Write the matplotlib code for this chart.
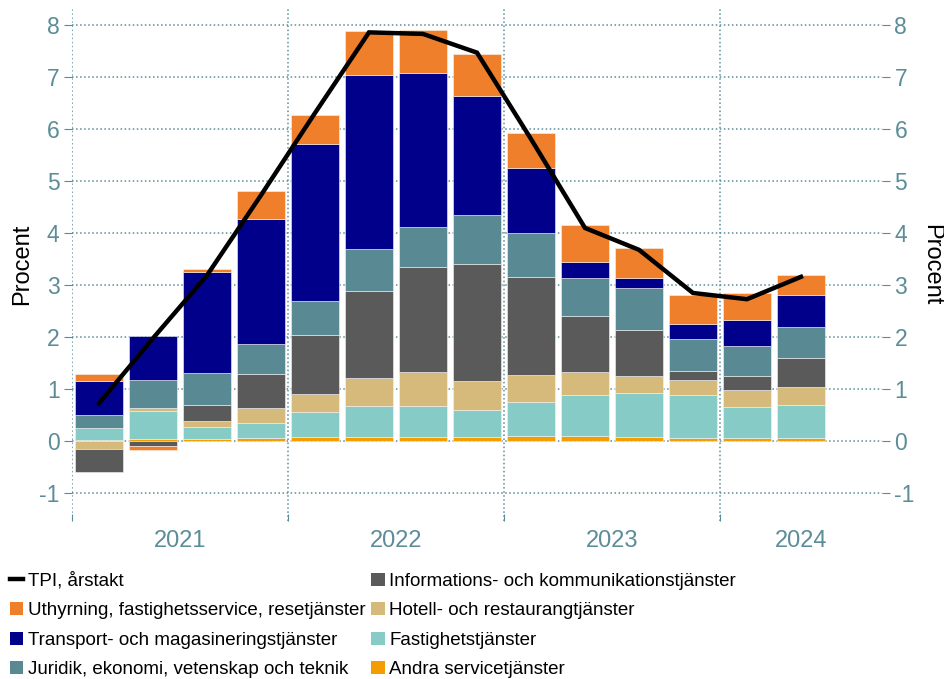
import matplotlib
matplotlib.use("Agg")
import matplotlib.pyplot as plt
import numpy as np
from matplotlib import font_manager
from matplotlib.lines import Line2D
from matplotlib.patches import Patch

# kvartal 2021Q1 - 2024Q2
years = ["2021", "2022", "2023", "2024"]
year_centers = [1.5, 5.5, 9.5, 13.0]
year_bounds = [-0.5, 3.5, 7.5, 11.5]

andra = [0.02, 0.03, 0.03, 0.06, 0.07, 0.07, 0.07, 0.08, 0.10, 0.10, 0.08, 0.06, 0.06, 0.045]
fastighet = [0.23, 0.54, 0.23, 0.28, 0.49, 0.59, 0.59, 0.51, 0.65, 0.77, 0.83, 0.82, 0.58, 0.64]
hotell = [-0.16, 0.06, 0.12, 0.28, 0.34, 0.54, 0.67, 0.56, 0.51, 0.45, 0.34, 0.29, 0.33, 0.34]
info = [-0.44, -0.10, 0.30, 0.66, 1.14, 1.67, 2.00, 2.25, 1.88, 1.07, 0.87, 0.17, 0.27, 0.56]
juridik = [0.24, 0.53, 0.62, 0.58, 0.64, 0.81, 0.78, 0.93, 0.86, 0.73, 0.82, 0.61, 0.58, 0.60]
transport = [0.65, 0.86, 1.95, 2.41, 3.03, 3.36, 2.95, 2.29, 1.24, 0.31, 0.18, 0.30, 0.50, 0.61]
uthyrning = [0.15, -0.07, 0.06, 0.54, 0.55, 0.83, 0.83, 0.81, 0.68, 0.71, 0.58, 0.56, 0.51, 0.40]
tpi = [0.72, 1.97, 3.18, 4.72, 6.30, 7.85, 7.82, 7.46, 5.80, 4.09, 3.67, 2.84, 2.72, 3.15]

series = [
    ("Andra servicetjänster", andra, "#f59d00"),
    ("Fastighetstjänster", fastighet, "#86cbc6"),
    ("Hotell- och restaurangtjänster", hotell, "#d5ba7b"),
    ("Informations- och kommunikationstjänster", info, "#5a5a5a"),
    ("Juridik, ekonomi, vetenskap och teknik", juridik, "#598a94"),
    ("Transport- och magasineringstjänster", transport, "#00008b"),
    ("Uthyrning, fastighetsservice, resetjänster", uthyrning, "#f07f2b"),
]

tick_color = "#5b8d98"
plt.rcParams["font.family"] = ["Liberation Sans", "DejaVu Sans"]

names = {f.name for f in font_manager.fontManager.ttflist}
if "Liberation Sans Narrow" in names:
    leg_font = {"family": ["Liberation Sans Narrow", "DejaVu Sans"], "size": 15}
else:
    leg_font = {"family": ["Liberation Sans", "DejaVu Sans"], "size": 13.5}

fig = plt.figure(figsize=(9.45, 6.79), dpi=100)
ax = fig.add_axes([0.0762, 0.2322, 0.8571, 0.7569])

x = np.arange(len(tpi))
pos = np.zeros(len(x))
neg = np.zeros(len(x))
handles = {}
for name, vals, col in series:
    vals = np.array(vals)
    bottom = np.where(vals >= 0, pos, neg)
    ax.bar(x, vals, bottom=bottom, width=0.89, color=col, edgecolor="#f4f4f4", linewidth=0.4, zorder=3)
    pos = pos + np.where(vals >= 0, vals, 0)
    neg = neg + np.where(vals < 0, vals, 0)
    handles[name] = Patch(facecolor=col, edgecolor="none")

ax.plot(x, tpi, color="black", linewidth=3.2, zorder=4, solid_joinstyle="miter")

ax.set_xlim(-0.5, 14.5)
ax.set_ylim(-1.55, 8.33)
ax.set_yticks(range(-1, 9))
ax.set_yticklabels([str(v) for v in range(-1, 9)])
ax.grid(axis="y", linestyle=":", color=tick_color, linewidth=1.1, zorder=0)

for b in year_bounds:
    ax.axvline(b, linestyle=":", color=tick_color, linewidth=1.1, zorder=1)

ax.set_xticks(year_bounds)
ax.set_xticklabels([])
ax.set_xticks(year_centers, minor=True)
ax.set_xticklabels(years, minor=True)
ax.tick_params(axis="x", which="major", direction="in", length=5, color=tick_color)
ax.tick_params(axis="x", which="minor", length=0, pad=6, labelsize=17, labelcolor=tick_color)
ax.tick_params(axis="y", direction="out", length=6, color=tick_color, labelsize=16.5, labelcolor=tick_color, pad=3)
for s in ax.spines.values():
    s.set_visible(False)
ax.set_ylabel("Procent", fontsize=17, labelpad=4)

ax2 = ax.twinx()
ax2.set_ylim(ax.get_ylim())
ax2.set_yticks(range(-1, 9))
ax2.set_yticklabels([str(v) for v in range(-1, 9)])
ax2.tick_params(axis="y", direction="out", length=6, color=tick_color, labelsize=16.5, labelcolor=tick_color, pad=3)
for s in ax2.spines.values():
    s.set_visible(False)
ax2.set_ylabel("Procent", fontsize=17, rotation=270, labelpad=20)

order = [
    "Uthyrning, fastighetsservice, resetjänster",
    "Transport- och magasineringstjänster",
    "Juridik, ekonomi, vetenskap och teknik",
    "Informations- och kommunikationstjänster",
    "Hotell- och restaurangtjänster",
    "Fastighetstjänster",
    "Andra servicetjänster",
]
leg_handles = [Line2D([0], [0], color="black", linewidth=3.2)] + [handles[n] for n in order]
leg_labels = ["TPI, årstakt"] + order
fig.legend(leg_handles, leg_labels, loc="upper left", bbox_to_anchor=(0.003, 0.168),
           ncol=2, frameon=False, prop=leg_font, handlelength=0.7, handleheight=0.7,
           handletextpad=0.25, columnspacing=0.3, labelspacing=0.66, borderaxespad=0)

fig.savefig("out.png", dpi=100)
